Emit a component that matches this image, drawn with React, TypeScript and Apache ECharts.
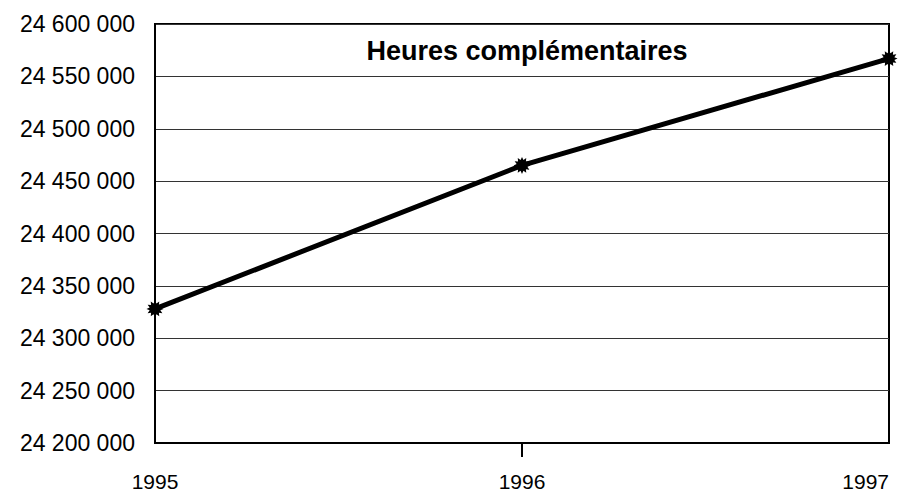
import React, { useEffect, useRef } from "react";
import * as echarts from "echarts";

const years = ["1995", "1996", "1997"];
const heures = [24328000, 24465000, 24567000];
const yMin = 24200000;
const yMax = 24600000;
const yStep = 50000;
const titleText = "Heures complémentaires";

function starPath(): string {
  const n = 12;
  const pts: string[] = [];
  for (let i = 0; i < n * 2; i++) {
    const r = i % 2 === 0 ? 10 : 6.5;
    const a = (Math.PI * i) / n;
    pts.push(`${(10 + r * Math.cos(a)).toFixed(2)},${(10 + r * Math.sin(a)).toFixed(2)}`);
  }
  return "path://M" + pts.join("L") + "Z";
}

const fmt = (v: number) =>
  String(Math.round(v)).replace(/\B(?=(\d{3})+(?!\d))/g, " ");

export default function App() {
  const ref = useRef<HTMLDivElement>(null);
  useEffect(() => {
    if (!ref.current) return;
    const chart = echarts.init(ref.current, undefined, { renderer: "svg" });
    const font = "Liberation Sans, Arial, sans-serif";
    chart.setOption({
      animation: false,
      backgroundColor: "#fff",
      title: {
        text: titleText,
        left: 522,
        textAlign: "center",
        top: 32,
        textStyle: { fontFamily: font, fontSize: 27, fontWeight: "bold", color: "#000" },
      },
      grid: {
        left: 155,
        right: 10,
        top: 24,
        bottom: 50,
        show: true,
        borderColor: "#000",
        borderWidth: 2,
        backgroundColor: "transparent",
      },
      xAxis: {
        type: "category",
        data: years,
        boundaryGap: false,
        axisLine: { show: true, lineStyle: { color: "#000", width: 2 } },
        axisTick: {
          show: true,
          length: 14,
          interval: (i: number) => i === 1,
          lineStyle: { color: "#000", width: 2 },
        },
        axisLabel: {
          margin: 28,
          fontFamily: font,
          fontSize: 21,
          color: "#000",
          alignMaxLabel: "right",
          alignMinLabel: "center",
        },
        splitLine: { show: false },
      },
      yAxis: {
        type: "value",
        min: yMin,
        max: yMax,
        interval: yStep,
        axisLine: { show: true, lineStyle: { color: "#000", width: 2 } },
        axisTick: { show: false },
        axisLabel: {
          margin: 20,
          fontFamily: font,
          fontSize: 23,
          color: "#000",
          formatter: (v: number) => fmt(v),
        },
        splitLine: { show: true, lineStyle: { color: "#333", width: 1 } },
      },
      series: [
        {
          type: "line",
          data: heures,
          symbol: starPath(),
          symbolSize: 17,
          showAllSymbol: true,
          itemStyle: { color: "#000" },
          lineStyle: { color: "#000", width: 5 },
        },
      ],
    });
    return () => chart.dispose();
  }, []);
  return (
    <div
      ref={ref}
      style={{ position: "fixed", left: 0, top: 0, width: 899, height: 493 }}
    />
  );
}
